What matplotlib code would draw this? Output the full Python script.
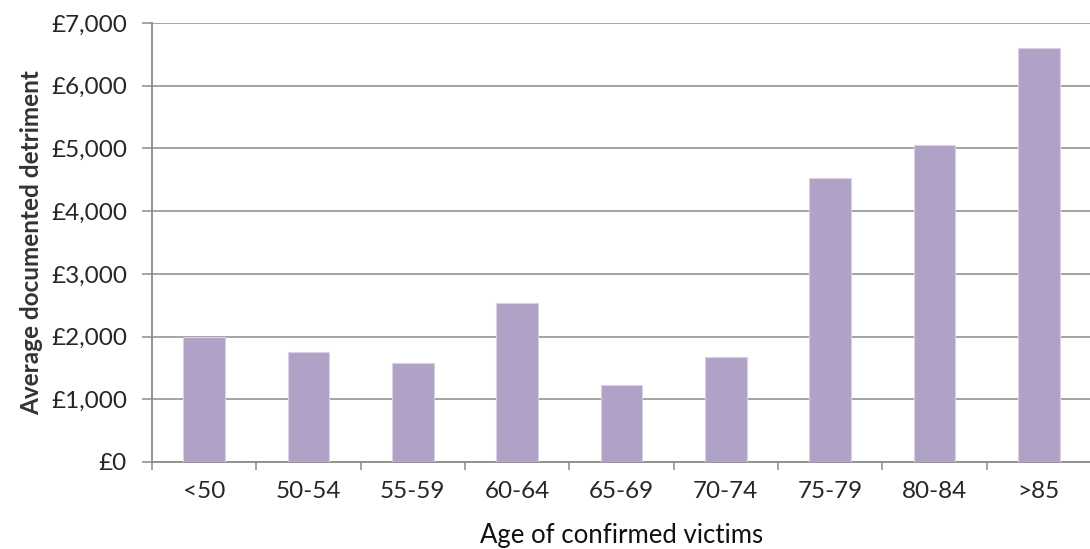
import numpy as np
import matplotlib
matplotlib.use("Agg")
from matplotlib import pyplot as plt
from matplotlib.ticker import FuncFormatter

# average detriment per age band
age_groups = ["<50", "50-54", "55-59", "60-64", "65-69", "70-74", "75-79", "80-84", ">85"]
detriment = [1990, 1760, 1575, 2535, 1230, 1670, 4525, 5060, 6600]
y_ticks = [0, 1000, 2000, 3000, 4000, 5000, 6000, 7000]

plt.rcParams['font.family'] = ['Lato', 'DejaVu Sans']

fig = plt.figure(figsize=(10.9, 5.49), dpi=100)
ax = fig.add_axes([152/1090, 87/549, 939/1090, 439/549])

x = np.arange(len(age_groups))
ax.bar(x, detriment, width=0.4, color='#b0a2c6', edgecolor='#d8d0e4', linewidth=0.8, zorder=3)

ax.set_xlim(-0.5, len(age_groups) - 0.5)
ax.set_ylim(0, 7000)
ax.set_yticks(y_ticks)
ax.yaxis.set_major_formatter(FuncFormatter(lambda v, p: '£{:,.0f}'.format(v)))
ax.grid(axis='y', color='#8c8c8c', linewidth=1.1, zorder=0)

ax.set_xticks(x)
ax.set_xticklabels(age_groups)
ax.set_xticks(np.arange(-0.5, len(age_groups), 1), minor=True)
ax.tick_params(axis='x', which='major', length=0, pad=14, labelsize=17.5, labelcolor='#262626')
ax.tick_params(axis='x', which='minor', length=6, width=1.1, color='#8c8c8c', direction='out')
ax.tick_params(axis='y', length=7, width=1.1, color='#8c8c8c', pad=11, labelsize=17.5, labelcolor='#262626')

for s in ['top', 'right']:
    ax.spines[s].set_visible(False)
for s in ['left', 'bottom']:
    ax.spines[s].set_color('#8c8c8c')
    ax.spines[s].set_linewidth(1.3)

ax.set_xlabel('Age of confirmed victims', fontsize=18.5, color='#111111', labelpad=15)
ax.set_ylabel('Average documented detriment', fontsize=17.5, fontweight='bold', color='#333333', labelpad=6)

fig.savefig('out.png', dpi=100)
